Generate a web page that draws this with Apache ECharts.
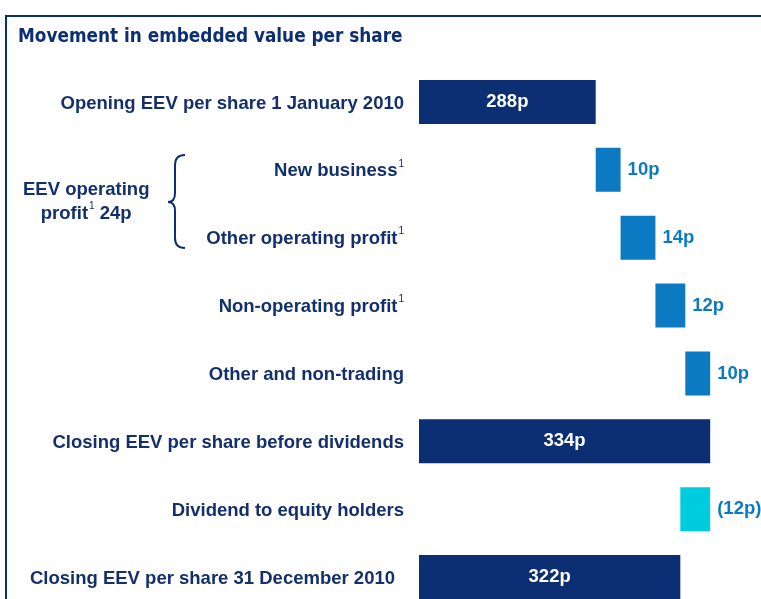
<!DOCTYPE html>
<html>
<head>
<meta charset="utf-8">
<script src="https://cdn.jsdelivr.net/npm/echarts@6/dist/echarts.min.js"></script>
<style>
html,body{margin:0;padding:0;background:#fff;}
#chart{width:761px;height:599px;}
</style>
</head>
<body>
<div id="chart"></div>
<script>
// ---- data ----
var categories = [
  'Opening EEV per share 1 January 2010',
  'New business',
  'Other operating profit',
  'Non-operating profit',
  'Other and non-trading',
  'Closing EEV per share before dividends',
  'Dividend to equity holders',
  'Closing EEV per share 31 December 2010'
];
var footnote = [0, 1, 1, 1, 0, 0, 0, 0];
var kinds = ['total', 'inc', 'inc', 'inc', 'inc', 'total', 'dec', 'total'];
var values = [288, 10, 14, 12, 10, 334, 12, 322];
var valueLabels = ['288p', '10p', '14p', '12p', '10p', '334p', '(12p)', '322p'];
var groupLabel = ['EEV operating', 'profit', '1', ' 24p'];

// ---- build waterfall ----
var NAVY = '#0c2f73', BLUE = '#0b7ac2', CYAN = '#00cce0', TXT = '#13306d';
var baseData = [], barData = [];
var running = 0;
for (var i = 0; i < values.length; i++) {
  var k = kinds[i], v = values[i], start;
  if (k === 'total') { start = 0; running = v; }
  else if (k === 'inc') { start = running; running += v; }
  else { running -= v; start = running; }
  baseData.push(start);
  var color = k === 'total' ? NAVY : (k === 'inc' ? BLUE : CYAN);
  barData.push({
    value: v,
    itemStyle: { color: color },
    label: k === 'total'
      ? { show: true, position: 'inside', color: '#ffffff', formatter: valueLabels[i] }
      : { show: true, position: 'right', distance: 7, color: BLUE, formatter: valueLabels[i] }
  });
}

var chart = echarts.init(document.getElementById('chart'));
var FONT = 'Liberation Sans, Arial, sans-serif';
var braceStyle = { stroke: NAVY, lineWidth: 2, fill: null };
chart.setOption({
  animation: false,
  backgroundColor: '#ffffff',
  title: {
    text: 'Movement in embedded value per share',
    left: 13, top: 23,
    textStyle: { fontFamily: 'DejaVu Sans Condensed', fontWeight: 'bold', fontSize: 18.8, color: NAVY }
  },
  grid: { left: 419, right: 11, top: 68, height: 543, containLabel: false, outerBoundsMode: 'none' },
  xAxis: {
    type: 'value', min: 217, max: 350,
    show: false, splitLine: { show: false }
  },
  yAxis: {
    type: 'category', inverse: true, data: categories,
    axisLine: { show: false }, axisTick: { show: false },
    axisLabel: {
      margin: 15,
      formatter: function (val, idx) {
        var s = '{a|' + val + '}';
        if (footnote[idx]) s += '{s|1}';
        if (idx === 7) s = '{b|' + val + '}';
        return s;
      },
      rich: {
        a: { fontFamily: FONT, fontWeight: 'bold', fontSize: 18.5, color: TXT, lineHeight: 22, padding: [3, 0, 0, 0] },
        b: { fontFamily: FONT, fontWeight: 'bold', fontSize: 18.5, color: TXT, lineHeight: 22, padding: [3, 9, 0, 0] },
        s: { fontFamily: FONT, fontSize: 10, color: TXT, verticalAlign: 'top', lineHeight: 22, padding: [0, 0, 8, 1] }
      }
    }
  },
  series: [
    {
      type: 'bar', stack: 'w', data: baseData, barWidth: 44,
      itemStyle: { color: 'rgba(0,0,0,0)' }, silent: true, label: { show: false }
    },
    {
      type: 'bar', stack: 'w', data: barData, barWidth: 44,
      label: { fontFamily: FONT, fontWeight: 'bold', fontSize: 18.5 }
    }
  ],
  graphic: [
    { type: 'line', shape: { x1: 5, y1: 16, x2: 761, y2: 16 }, style: { stroke: NAVY, lineWidth: 2 } },
    { type: 'line', shape: { x1: 6, y1: 15, x2: 6, y2: 599 }, style: { stroke: NAVY, lineWidth: 2 } },
    { type: 'bezierCurve', shape: { x1: 185, y1: 155, cpx1: 175, cpy1: 155, x2: 175, y2: 165 }, style: braceStyle },
    { type: 'line', shape: { x1: 175, y1: 165, x2: 175, y2: 193 }, style: braceStyle },
    { type: 'bezierCurve', shape: { x1: 175, y1: 193, cpx1: 175, cpy1: 202, x2: 168, y2: 202 }, style: braceStyle },
    { type: 'bezierCurve', shape: { x1: 168, y1: 202, cpx1: 175, cpy1: 202, x2: 175, y2: 211 }, style: braceStyle },
    { type: 'line', shape: { x1: 175, y1: 211, x2: 175, y2: 238 }, style: braceStyle },
    { type: 'bezierCurve', shape: { x1: 175, y1: 238, cpx1: 175, cpy1: 248, x2: 185, y2: 248 }, style: braceStyle },
    {
      type: 'text', left: 23, top: 180,
      style: {
        text: '{a|' + groupLabel[0] + '}\n{a|' + groupLabel[1] + '}{s|' + groupLabel[2] + '}{a|' + groupLabel[3] + '}',
        align: 'center',
        rich: {
          a: { fontFamily: FONT, fontWeight: 'bold', fontSize: 18.5, fill: TXT, lineHeight: 24, align: 'center' },
          s: { fontFamily: FONT, fontSize: 10, fill: TXT, verticalAlign: 'top', lineHeight: 24, padding: [0, 0, 10, 1] }
        }
      }
    }
  ]
});
</script>
</body>
</html>
